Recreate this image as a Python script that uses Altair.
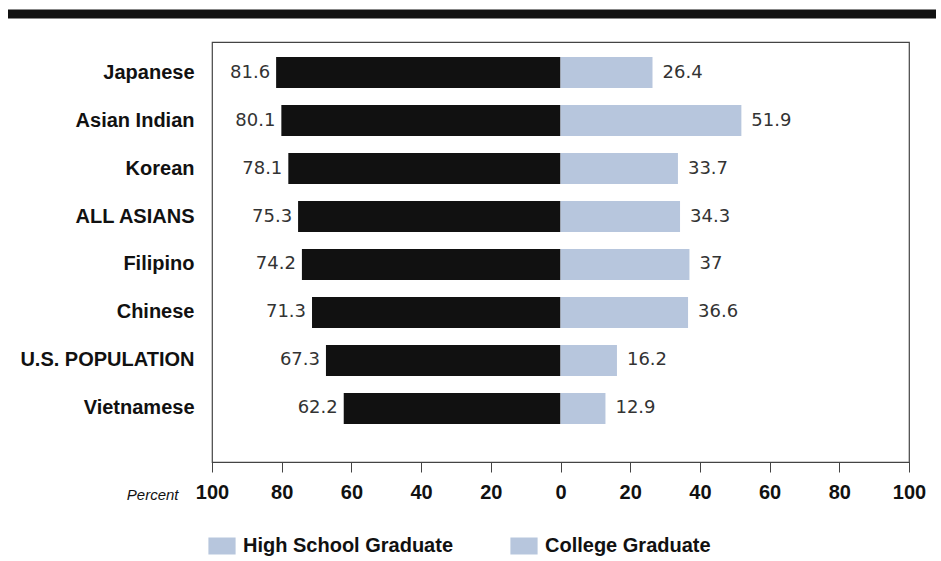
import altair as alt
import pandas as pd

categories = ["Japanese", "Asian Indian", "Korean", "ALL ASIANS", "Filipino",
              "Chinese", "U.S. POPULATION", "Vietnamese"]
high_school = [81.6, 80.1, 78.1, 75.3, 74.2, 71.3, 67.3, 62.2]
college = [26.4, 51.9, 33.7, 34.3, 37, 36.6, 16.2, 12.9]
groups = ["High School Graduate", "College Graduate"]
tick_values = [-100, -80, -60, -40, -20, 0, 20, 40, 60, 80, 100]

rows = []
for c, h, co in zip(categories, high_school, college):
    rows.append({"category": c, "group": groups[0], "value": -h, "label": f"{h:g}"})
    rows.append({"category": c, "group": groups[1], "value": co, "label": f"{co:g}"})
df = pd.DataFrame(rows)

FONT = "Liberation Sans"
BLACK = "#111111"
BLUE = "#b7c6dd"

y_enc = alt.Y(
    "category:N", sort=categories,
    scale=alt.Scale(range=[15, 382], paddingInner=0.354, paddingOuter=0),
    axis=alt.Axis(title=None, ticks=False, domain=False, labelPadding=18,
                  labelFontSize=20, labelFontWeight="bold", labelColor=BLACK,
                  labelFont=FONT, labelLimit=300),
)
x_enc = alt.X(
    "value:Q",
    scale=alt.Scale(domain=[-100, 100], nice=False),
    axis=alt.Axis(values=tick_values, labelExpr="abs(datum.value)", grid=False,
                  tickSize=10, tickColor="#444", domainColor="#444",
                  labelFlush=False, labelPadding=10, labelFontSize=20,
                  labelFontWeight="bold", labelColor=BLACK, labelFont=FONT,
                  title="Percent", titleX=-34, titleY=32, titleAlign="right",
                  titleBaseline="middle", titleFontStyle="italic",
                  titleFontWeight="normal", titleFontSize=15, titleFont=FONT,
                  titleColor=BLACK),
)

base = alt.Chart(df)

bars = base.mark_bar().encode(
    x=x_enc,
    y=y_enc,
    color=alt.Color("group:N", scale=alt.Scale(domain=groups, range=[BLACK, BLUE]),
                    legend=None),
)

# zero-width bars, only to carry the legend (both swatches printed light blue)
legend_layer = base.mark_bar().encode(
    x=alt.datum(0),
    y=alt.Y("category:N", sort=categories),
    fill=alt.Fill(
        "group:N",
        scale=alt.Scale(domain=groups, range=[BLUE, BLUE]),
        legend=alt.Legend(
            title=None, orient="none", direction="horizontal",
            legendX=0, legendY=494, columnPadding=56, labelOffset=11,
            symbolType="M-1.6,-1L1.6,-1L1.6,1L-1.6,1Z", symbolSize=289,
            symbolStrokeWidth=0, labelFontSize=20, labelFontWeight="bold",
            labelFont=FONT, labelColor=BLACK, padding=0, labelLimit=400,
        ),
    ),
)

left_text = base.transform_filter(alt.datum.group == groups[0]).mark_text(
    align="right", baseline="middle", dx=-6, fontSize=18, font="DejaVu Sans",
    color="#333333",
).encode(x="value:Q", y=alt.Y("category:N", sort=categories), text="label:N")

right_text = base.transform_filter(alt.datum.group == groups[1]).mark_text(
    align="left", baseline="middle", dx=10, fontSize=18, font="DejaVu Sans",
    color="#333333",
).encode(x="value:Q", y=alt.Y("category:N", sort=categories), text="label:N")

top_rule = alt.Chart(pd.DataFrame({"a": [0]})).mark_rule(
    color=BLACK, strokeWidth=9
).encode(x=alt.value(-204), x2=alt.value(724), y=alt.value(-28))

chart = alt.layer(bars, legend_layer, left_text, right_text, top_rule).resolve_scale(
    color="independent", fill="independent"
).properties(
    width=697, height=420,
    background="white",
    autosize=alt.AutoSizeParams(type="none"),
    padding={"left": 212, "top": 42, "right": 32, "bottom": 99},
).configure_view(stroke="#444444", strokeWidth=1.2)

chart.save("out.html", embed_options={"renderer": "svg", "actions": False})
